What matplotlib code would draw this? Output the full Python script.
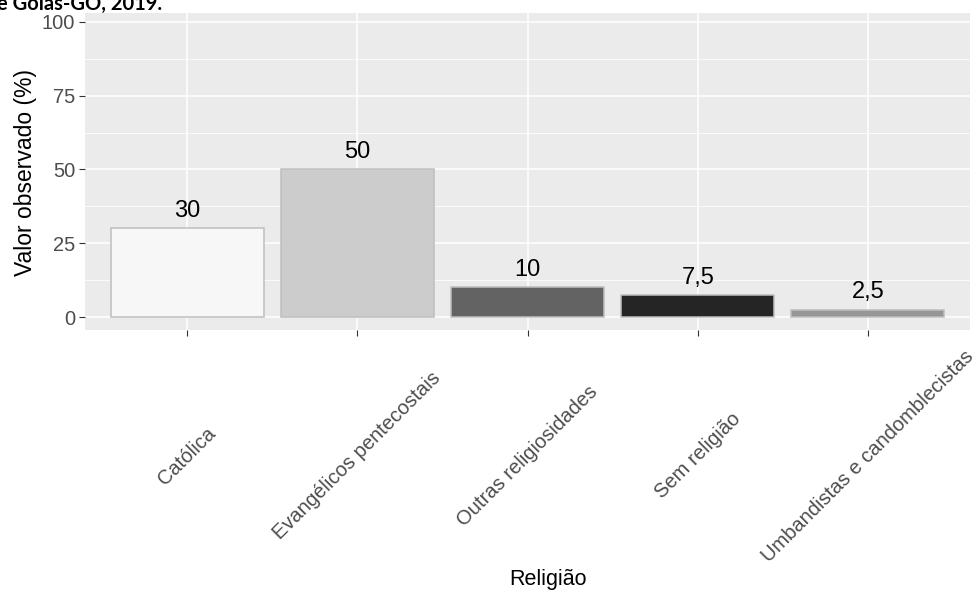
"""
Bar chart of observed religion shares (%), ggplot-like grey theme.
"""
# Data ------------------------------------------------------------------------

CATEGORIES = ["Católica", "Evangélicos pentecostais", "Outras religiosidades",
              "Sem religião", "Umbandistas e candomblecistas"]
VALUES = [30, 50, 10, 7.5, 2.5]
BAR_COLORS = ["#F7F7F7", "#CCCCCC", "#636363", "#252525", "#969696"]
Y_TICKS = [0, 25, 50, 75, 100]
Y_MINOR = [12.5, 37.5, 62.5, 87.5]

TITLE_FRAGMENT = "e Goiás-GO, 2019."
X_TITLE = "Religião"
Y_TITLE = "Valor observado (%)"

# Imports ---------------------------------------------------------------------

import matplotlib
matplotlib.use("Agg")
import matplotlib.pyplot as plt
from matplotlib.transforms import blended_transform_factory

plt.rcParams["font.family"] = ["Liberation Sans", "DejaVu Sans"]

W, H = 978, 599


def fmt(v):
    """ Brazilian style number: comma as decimal separator. """
    return "{:g}".format(v).replace(".", ",")


# Figure ----------------------------------------------------------------------

fig = plt.figure(figsize=(W / 100, H / 100), dpi=100)
left, right, top, bottom = 85, 970, 13, 330
ax = fig.add_axes([left / W, 1 - bottom / H, (right - left) / W,
                   (bottom - top) / H])
ax.set_facecolor("#EBEBEB")
for sp in ax.spines.values():
    sp.set_visible(False)

x = list(range(1, len(CATEGORIES) + 1))
ax.set_xlim(0.4, len(CATEGORIES) + 0.6)
ax.set_ylim(-4.4, 103)

ax.set_yticks(Y_TICKS)
ax.set_yticks(Y_MINOR, minor=True)
ax.set_xticks(x)
ax.grid(True, which="major", color="white", linewidth=1.1)
ax.grid(True, which="minor", axis="y", color="white", linewidth=0.55)
ax.set_axisbelow(True)
ax.tick_params(which="major", length=4, width=0.8, color="#333333",
               labelsize=14.5, labelcolor="#4D4D4D", pad=3)
ax.tick_params(which="minor", length=0)
ax.set_xticklabels([""] * len(CATEGORIES))

ax.bar(x, VALUES, width=0.9, color=BAR_COLORS, edgecolor="#BEBEBE",
       linewidth=1.1, zorder=3)

for xi, v in zip(x, VALUES):
    ax.annotate(fmt(v), (xi, v), xytext=(0, 12.5), textcoords="offset points",
                ha="center", va="center", fontsize=17, color="black",
                zorder=4)

# rotated category labels, centred on each tick
trans = blended_transform_factory(ax.transData, fig.transFigure)
for xi, lab in zip(x, CATEGORIES):
    ax.text(xi, 1 - 456 / H, lab, transform=trans, rotation=45,
            rotation_mode="anchor", ha="center", va="center",
            fontsize=14.5, color="#4D4D4D", clip_on=False)

fig.text(548 / W, 1 - 580 / H, X_TITLE, ha="center", va="center",
         fontsize=15.5, color="black")
fig.text(26 / W, 1 - 172 / H, Y_TITLE, ha="center", va="center",
         rotation=90, fontsize=16.5, color="black")

# caption text cut at the top of the image, as in the source
fig.text(-3 / W, 1 - 10 / H, TITLE_FRAGMENT, ha="left", va="baseline",
         fontsize=14.5, fontweight="bold", family=["Lato", "DejaVu Sans"],
         color="black")

fig.savefig("out.png", dpi=100)
